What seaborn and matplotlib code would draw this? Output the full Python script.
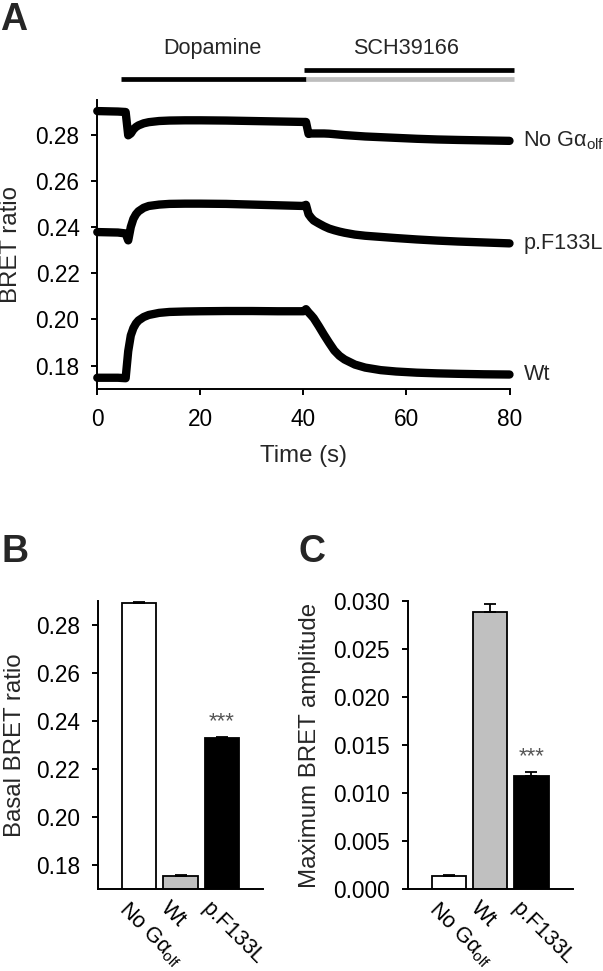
import numpy as np
import pandas as pd
import matplotlib
matplotlib.use("Agg")
import matplotlib.pyplot as plt
import matplotlib.transforms as mtransforms
from matplotlib.ticker import FormatStrFormatter
import seaborn as sns

# Panel A: BRET time course
times = [0, 2, 4, 5.5, 6, 6.5, 7, 7.5, 8, 9, 10, 12, 14, 17, 20, 25, 30, 35, 40, 40.5,
         41, 41.5, 42, 43, 44, 45, 46, 47, 48, 50, 52, 55, 58, 62, 66, 70, 75, 80]
no_golf = [0.2902, 0.2901, 0.2900, 0.2898, 0.2797, 0.2805, 0.2822, 0.2833, 0.2840, 0.2849,
           0.2854, 0.2859, 0.2861, 0.2862, 0.2862, 0.2861, 0.2859, 0.2857, 0.2855, 0.2855,
           0.2803, 0.2805, 0.2805, 0.2805, 0.2805, 0.2804, 0.2802, 0.2800, 0.2798, 0.2795,
           0.2792, 0.2789, 0.2786, 0.2782, 0.2779, 0.2777, 0.2775, 0.2773]
f133l = [0.2378, 0.2377, 0.2376, 0.2372, 0.2342, 0.2400, 0.2435, 0.2455, 0.2468, 0.2483,
         0.2491, 0.2497, 0.2500, 0.2501, 0.2501, 0.2500, 0.2497, 0.2494, 0.2491, 0.2496,
         0.2455, 0.2440, 0.2428, 0.2415, 0.2403, 0.2393, 0.2386, 0.2380, 0.2375, 0.2367,
         0.2362, 0.2357, 0.2352, 0.2346, 0.2341, 0.2337, 0.2333, 0.2329]
wt = [0.1747, 0.1747, 0.1747, 0.1745, 0.1862, 0.1930, 0.1962, 0.1982, 0.1995, 0.2010,
      0.2019, 0.2028, 0.2032, 0.2034, 0.2035, 0.2036, 0.2036, 0.2035, 0.2035, 0.2044,
      0.2030, 0.2018, 0.2005, 0.1970, 0.1933, 0.1898, 0.1865, 0.1842, 0.1826, 0.1804,
      0.1791, 0.1780, 0.1774, 0.1769, 0.1766, 0.1764, 0.1762, 0.1761]
trace_labels = ["No Gα$_{\\mathrm{olf}}$", "p.F133L", "Wt"]
x_ticks_a = [0, 20, 40, 60, 80]
y_ticks_a = [0.18, 0.20, 0.22, 0.24, 0.26, 0.28]

# Panels B and C: bar summaries
groups = ["No Gα$_{\\mathrm{olf}}$", "Wt", "p.F133L"]
bar_colors = ["white", "#c0c0c0", "black"]
basal = [0.2890, 0.1754, 0.2328]
basal_err = [0.0005, 0.0004, 0.0006]
amplitude = [0.00132, 0.02886, 0.01179]
amplitude_err = [0.00010, 0.00087, 0.00040]
y_ticks_b = [0.18, 0.20, 0.22, 0.24, 0.26, 0.28]
y_ticks_c = [0.000, 0.005, 0.010, 0.015, 0.020, 0.025, 0.030]

sns.set_style("ticks")
plt.rcParams["font.family"] = ["Liberation Sans", "DejaVu Sans"]
plt.rcParams["mathtext.fontset"] = "custom"
plt.rcParams["mathtext.rm"] = "Liberation Sans"
plt.rcParams["mathtext.it"] = "Liberation Sans:italic"
plt.rcParams["axes.linewidth"] = 1.4

TICK_FS = 16.3
LABEL_FS = 17.3
NOTE_FS = 15.6
CAT_FS = 15.5
LETTER_FS = 27

W, H = 603, 971
fig = plt.figure(figsize=(W / 100, H / 100), dpi=100)


def px_axes(left, right, top, bottom):
    return fig.add_axes([left / W, (H - bottom) / H, (right - left) / W, (bottom - top) / H])


def style_axis(ax):
    sns.despine(ax=ax)
    ax.tick_params(axis="both", direction="out", length=4.3, width=1.4,
                   labelsize=TICK_FS, color="black", labelcolor="black")
    for s in ["left", "bottom"]:
        ax.spines[s].set_color("black")


# ---------------- Panel A ----------------
axA = px_axes(97.3, 509.5, 100, 388.6)
for vals in [no_golf, f133l, wt]:
    sns.lineplot(x=times, y=vals, ax=axA, color="black", lw=6,
                 solid_joinstyle="round", solid_capstyle="round", clip_on=False)
for lab, vals in zip(trace_labels, [no_golf, f133l, wt]):
    axA.text(82.7, vals[-1], lab, ha="left", va="center", fontsize=NOTE_FS)

axA.set_xlim(0, 80)
axA.set_ylim(0.17, 0.295)
axA.set_xticks(x_ticks_a)
axA.set_yticks(y_ticks_a)
axA.yaxis.set_major_formatter(FormatStrFormatter("%.2f"))
style_axis(axA)
axA.tick_params(axis="x", pad=9.5)
axA.tick_params(axis="y", pad=8.5)
axA.set_xlabel("Time (s)", fontsize=LABEL_FS, va="center")
axA.xaxis.set_label_coords(0.5, -0.235)
axA.set_ylabel("BRET ratio", fontsize=LABEL_FS, va="center")
axA.yaxis.set_label_coords(-0.210, 0.5)

# treatment bars above the traces
trans = mtransforms.blended_transform_factory(axA.transData, axA.transAxes)
axA.plot([4.6, 40.6], [1.0717, 1.0717], color="black", lw=3.4, transform=trans,
         clip_on=False, solid_capstyle="butt")
axA.plot([40.2, 80.8], [1.1029, 1.1029], color="black", lw=3.4, transform=trans,
         clip_on=False, solid_capstyle="butt")
axA.plot([40.6, 80.8], [1.0717, 1.0717], color="#bdbdbd", lw=3.4, transform=trans,
         clip_on=False, solid_capstyle="butt")
axA.text(22.4, 1.1584, "Dopamine", transform=trans, ha="center", va="baseline", fontsize=NOTE_FS)
axA.text(60.0, 1.1584, "SCH39166", transform=trans, ha="center", va="baseline", fontsize=NOTE_FS)


# ---------------- Panels B and C ----------------
def bar_panel(ax, vals, errs, ylim, yticks, fmt, ylabel, label_x):
    df = pd.DataFrame({"group": groups, "value": vals})
    sns.barplot(data=df, x="group", y="value", hue="group", palette=bar_colors,
                edgecolor="black", linewidth=1.3, width=0.83, errorbar=None,
                legend=False, ax=ax)
    ax.errorbar(x=[0, 1, 2], y=vals, yerr=[np.zeros(3), errs], fmt="none",
                ecolor="black", elinewidth=1.3, capsize=4.6, capthick=1.3)
    ax.set_xlim(-1.0, 3.0)
    ax.set_ylim(*ylim)
    ax.set_yticks(yticks)
    ax.yaxis.set_major_formatter(FormatStrFormatter(fmt))
    style_axis(ax)
    ax.tick_params(axis="y", pad=8.5)
    ax.tick_params(axis="x", length=0, pad=6.5)
    ax.set_xticks([0, 1, 2])
    ax.set_xticklabels(groups, rotation=-45, ha="left", va="top",
                       rotation_mode="anchor", fontsize=CAT_FS)
    shift = mtransforms.ScaledTranslation(-9 / 100, 0, fig.dpi_scale_trans)
    for t in ax.get_xticklabels():
        t.set_transform(t.get_transform() + shift)
    ax.set_xlabel("")
    ax.set_ylabel(ylabel, fontsize=LABEL_FS, va="center")
    ax.yaxis.set_label_coords(label_x, 0.5)
    ax.annotate("***", xy=(2, vals[2] + errs[2]), xytext=(0, 7), textcoords="offset points",
                ha="center", va="baseline", fontsize=16, color="#555555")


axB = px_axes(98, 263, 601, 889)
bar_panel(axB, basal, basal_err, (0.17, 0.29), y_ticks_b, "%.2f", "Basal BRET ratio", -0.50)

axC = px_axes(407.7, 572.7, 601, 889)
bar_panel(axC, amplitude, amplitude_err, (0.0, 0.030), y_ticks_c, "%.3f",
          "Maximum BRET amplitude", -0.592)

# panel letters
fig.text(0.0, 1 - 29.5 / H, "A", fontsize=LETTER_FS, fontweight="bold", va="baseline")
fig.text(1 / W, 1 - 562 / H, "B", fontsize=LETTER_FS, fontweight="bold", va="baseline")
fig.text(299 / W, 1 - 562 / H, "C", fontsize=LETTER_FS, fontweight="bold", va="baseline")

fig.savefig("out.png", dpi=100)
